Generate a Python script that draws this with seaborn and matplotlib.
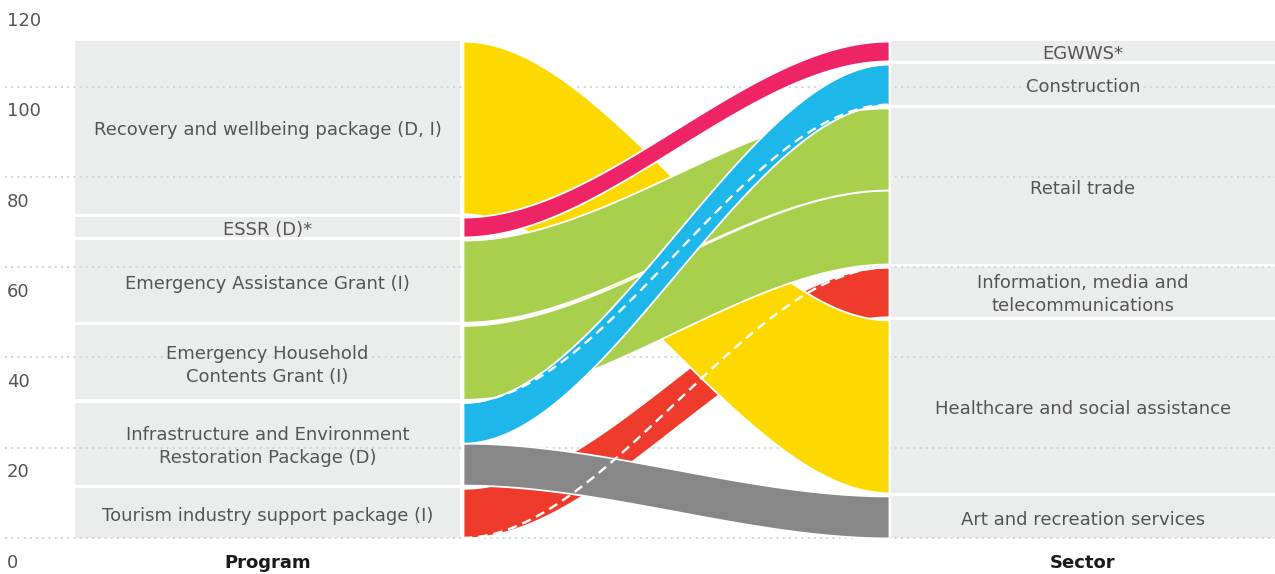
import numpy as np
import matplotlib
matplotlib.use("Agg")
import matplotlib.pyplot as plt
import seaborn as sns

# Nodes, listed bottom to top
programs = [
    "Tourism industry support package (I)",
    "Infrastructure and Environment\nRestoration Package (D)",
    "Emergency Household\nContents Grant (I)",
    "Emergency Assistance Grant (I)",
    "ESSR (D)*",
    "Recovery and wellbeing package (D, I)",
]
sectors = [
    "Art and recreation services",
    "Healthcare and social assistance",
    "Information, media and\ntelecommunications",
    "Retail trade",
    "Construction",
    "EGWWS*",
]

# Flows program -> sector
link_source = [0, 1, 1, 2, 3, 4, 5]
link_target = [2, 0, 4, 3, 3, 5, 1]
link_value = [11.0, 9.3, 9.0, 16.4, 18.2, 4.4, 38.3]
link_color = ["#ef3b2c", "#878787", "#1db8e9", "#a9d04d", "#a9d04d", "#ee2466", "#fdd900"]
# dashed diagonal drawn across some flows: +1 bottom->top, -1 top->bottom
link_diag = [1, 0, -1, 0, 0, 0, 0]
draw_order = [0, 6, 1, 3, 4, 2, 5]

y_ticks = [0, 20, 40, 60, 80, 100, 120]
axis_titles = ["Program", "Sector"]

GAP = 0.7
LEFT_BOX = (75, 460)
RIGHT_BOX = (891, 1275)
LINK_X = (463, 889)
BOX_COLOR = "#ebecec"
TEXT_COLOR = "#555555"

sns.set_theme(style="white")
plt.rcParams["font.family"] = ["DejaVu Sans"]

fig = plt.figure(figsize=(12.75, 5.74), dpi=100)
ax = fig.add_axes([0, 0, 1, 1])
ax.set_xlim(0, 1275)
ax.set_ylim(-8, 119.2)
ax.axis("off")


def stack(node_count, keys):
    totals = np.zeros(node_count)
    for k, v in zip(keys, link_value):
        totals[k] += v
    bottoms = np.concatenate([[0], np.cumsum(totals + GAP)[:-1]])
    return totals, bottoms


src_tot, src_bot = stack(len(programs), link_source)
dst_tot, dst_bot = stack(len(sectors), link_target)

# position of each flow inside its nodes (in list order, bottom up)
src_fill = src_bot.copy()
dst_fill = dst_bot.copy()
link_y0, link_y1 = [], []
for s, t, v in zip(link_source, link_target, link_value):
    link_y0.append(src_fill[s])
    link_y1.append(dst_fill[t])
    src_fill[s] += v
    dst_fill[t] += v

# label boxes
for labels, tot, bot, (x0, x1) in [(programs, src_tot, src_bot, LEFT_BOX),
                                    (sectors, dst_tot, dst_bot, RIGHT_BOX)]:
    for lab, h, b in zip(labels, tot, bot):
        ax.add_patch(plt.Rectangle((x0, b), x1 - x0, h, color=BOX_COLOR, lw=0, zorder=0))
        ax.text((x0 + x1) / 2, b + h / 2 - 0.6, lab, ha="center", va="center",
                fontsize=13, color=TEXT_COLOR, linespacing=1.35, zorder=6)

# dotted gridlines and tick labels
ax.hlines(y_ticks, 5, 1275, colors="#d3d3d3", linestyles=(0, (1, 2.2)), lw=1.4, zorder=1)
for v in y_ticks:
    ax.text(7, v - 5.5, str(v), ha="left", va="center", fontsize=13, color=TEXT_COLOR)

# flows
xs = np.linspace(LINK_X[0], LINK_X[1], 200)
u = (xs - LINK_X[0]) / (LINK_X[1] - LINK_X[0])
ease = 3 * u ** 2 - 2 * u ** 3
for z, i in enumerate(draw_order):
    v = link_value[i]
    lower = link_y0[i] + (link_y1[i] - link_y0[i]) * ease
    ax.fill_between(xs, lower, lower + v, facecolor=link_color[i],
                    edgecolor="white", lw=1.3, zorder=2 + z)

for i, d in enumerate(link_diag):
    if d == 0:
        continue
    start = link_y0[i] if d > 0 else link_y0[i] + link_value[i]
    end = link_y1[i] + link_value[i] if d > 0 else link_y1[i]
    sns.lineplot(x=xs, y=start + (end - start) * ease, ax=ax, color="white",
                 lw=1.7, linestyle=(0, (4, 2.5)), zorder=20)

for title, (x0, x1) in zip(axis_titles, [LEFT_BOX, RIGHT_BOX]):
    ax.text((x0 + x1) / 2, -5.5, title, ha="center", va="center",
            fontsize=13, fontweight="bold", color="#1a1a1a")

fig.savefig("out.png", dpi=100, facecolor="white")
